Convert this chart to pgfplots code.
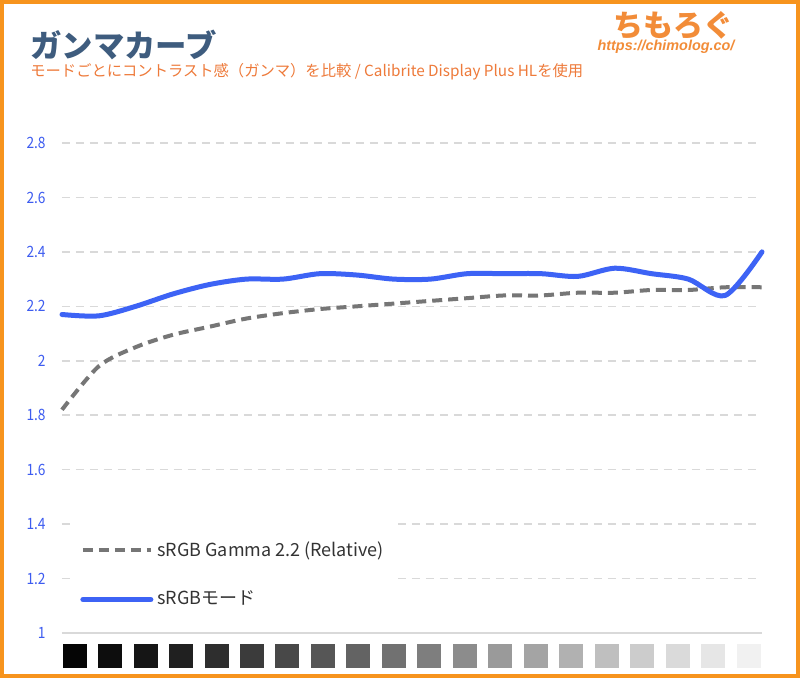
\documentclass[border=0pt]{standalone}
\usepackage{fontspec}
\setmainfont{Noto Sans CJK JP}
\newfontfamily\tickfont[FakeStretch=0.88]{Noto Sans CJK JP}
\newfontfamily\logofont{Liberation Sans}
\usepackage{pgfplots}
\pgfplotsset{compat=1.18}
\newlength\px
\setlength\px{0.5pt}
\definecolor{frameorange}{HTML}{F7941D}
\definecolor{titleblue}{HTML}{3E5C7E}
\definecolor{suborange}{HTML}{EE7A3A}
\definecolor{tickblue}{HTML}{3D5CF0}
\definecolor{lineblue}{HTML}{3D63F5}
\definecolor{refgray}{HTML}{767676}
\definecolor{gridgray}{HTML}{D9D9D9}
\definecolor{logoorange}{HTML}{F28C38}
\begin{document}
\begin{tikzpicture}
\fill[white] (0,0) rectangle (800\px,-678\px);
\draw[frameorange, line width=4\px] (2\px,-2\px) rectangle (798\px,-676\px);
\node[anchor=west, text=titleblue, font=\fontsize{15.7pt}{18pt}\selectfont\bfseries, inner sep=0] at (30\px,-45\px) {ガンマカーブ};
\node[anchor=west, text=suborange, font=\fontsize{7.65pt}{9pt}\selectfont, inner sep=0] at (30\px,-72\px) {モードごとにコントラスト感（ガンマ）を比較 / Calibrite Display Plus HLを使用};
\node[anchor=center, text=logoorange, font=\fontsize{15pt}{18pt}\selectfont\bfseries, inner sep=0] at (673\px,-25\px) {ちもろぐ};
\node[anchor=center, text=logoorange, font=\logofont\fontsize{7.2pt}{9pt}\selectfont\bfseries\itshape, inner sep=0] at (666\px,-47\px) {https://chimolog.co/};
\begin{axis}[
  at={(62\px,-633\px)}, anchor=south west,
  scale only axis, width=700\px, height=490\px,
  xmin=0, xmax=19, ymin=1, ymax=2.8,
  clip=false,
  axis line style={draw=none},
  xtick=\empty,
  ytick={1.2,1.4,1.6,1.8,2,2.2,2.4,2.6,2.8},
  yticklabels={1.2,1.4,1.6,1.8,2,2.2,2.4,2.6,2.8},
  extra y ticks={1},
  extra y tick labels={1},
  extra y tick style={ymajorgrids=true, grid style={solid, draw=gridgray, line width=2\px}},
  major tick length=0pt,
  tick style={draw=none},
  ymajorgrids,
  grid style={dashed, draw=gridgray, line width=1.5\px, dash pattern=on 8\px off 6\px},
  yticklabel style={text=tickblue, font=\tickfont\fontsize{7.8pt}{9pt}\selectfont, inner sep=0pt, xshift=-8pt},
  /pgf/number format/assume math mode=true,
  colormap={greys}{gray(0cm)=(0); gray(1cm)=(1)},
  point meta min=0, point meta max=1,
  legend cell align=left,
  legend style={at={(0.0114,0.2306)}, anchor=north west, draw=none, fill=white,
    inner xsep=5pt, inner ysep=8.5pt, row sep=12pt,
    font=\fontsize{9pt}{10.5pt}\selectfont, text=black!80},
  legend image code/.code={\draw[#1] (0pt,0pt) -- (34pt,0pt);},
]
\addplot[refgray, line width=4\px, dash pattern=on 10\px off 6\px, smooth] coordinates {
(0,1.82) (1,1.98) (2,2.05) (3,2.095) (4,2.125) (5,2.155) (6,2.175) (7,2.19) (8,2.20) (9,2.21)
(10,2.22) (11,2.23) (12,2.24) (13,2.24) (14,2.25) (15,2.25) (16,2.26) (17,2.26) (18,2.27) (19,2.27)};
\addlegendentry{sRGB Gamma 2.2 (Relative)}
\addplot[lineblue, line width=5\px, line cap=round, smooth] coordinates {
(0,2.17) (1,2.165) (2,2.20) (3,2.245) (4,2.28) (5,2.30) (6,2.30) (7,2.32) (8,2.315) (9,2.30)
(10,2.30) (11,2.32) (12,2.32) (13,2.32) (14,2.31) (15,2.34) (16,2.32) (17,2.30) (18,2.24) (19,2.40)};
\addlegendentry{sRGBモード}
\addplot[scatter, only marks, mark=square*, mark size=5.75pt, forget plot,
  point meta=explicit,
  scatter/use mapped color={draw=mapped color, fill=mapped color}] coordinates {
(0.339,0.9155) [0.02] (1.302,0.9155) [0.05] (2.265,0.9155) [0.08] (3.228,0.9155) [0.125]
(4.191,0.9155) [0.18] (5.154,0.9155) [0.23] (6.117,0.9155) [0.28] (7.08,0.9155) [0.335]
(8.043,0.9155) [0.385] (9.006,0.9155) [0.44] (9.969,0.9155) [0.49] (10.932,0.9155) [0.545]
(11.895,0.9155) [0.6] (12.858,0.9155) [0.64] (13.821,0.9155) [0.69] (14.784,0.9155) [0.745]
(15.747,0.9155) [0.795] (16.71,0.9155) [0.85] (17.673,0.9155) [0.895] (18.636,0.9155) [0.94]};
\end{axis}
\end{tikzpicture}
\end{document}
